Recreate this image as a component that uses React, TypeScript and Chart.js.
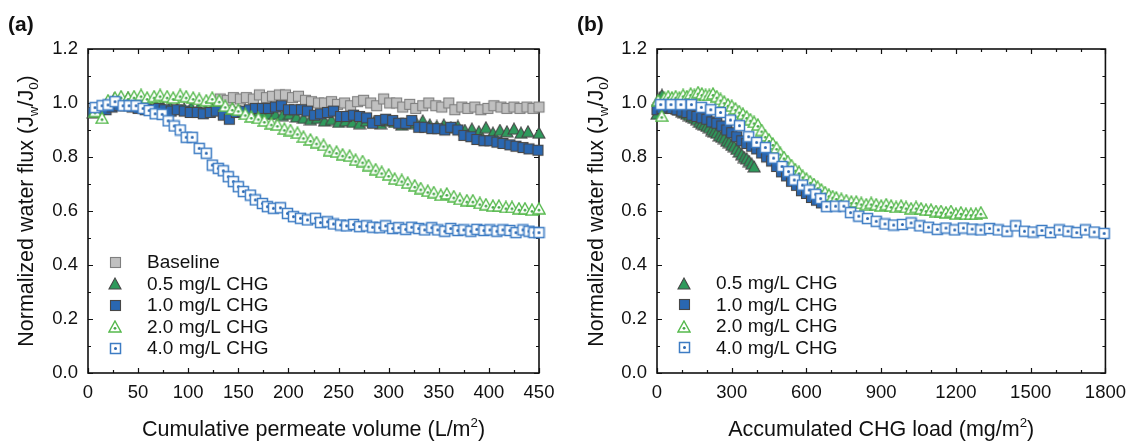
import React, { useEffect, useRef } from 'react';
import { Chart, registerables } from 'chart.js';
Chart.register(...registerables);

const FONT = '"Liberation Sans", Arial, Helvetica, sans-serif';

// ---------------- Panel (a): flux vs cumulative permeate volume ----------------
const aBaseX = [132, 139, 145, 152, 158, 165, 171, 178, 184, 191, 197, 204, 210, 217, 223, 230, 236, 243, 249, 256, 262, 269, 275, 282, 288, 295, 301, 308, 314, 321, 327, 334, 340, 347, 353, 360, 366, 373, 379, 386, 392, 399, 405, 412, 418, 425, 431, 438, 444, 450];
const aBaseY = [1.015, 1.01, 1.02, 1.015, 1.02, 1.015, 1.03, 1.02, 1.025, 1.03, 1.03, 1.02, 1.025, 1.01, 1.005, 1.0, 1.0, 1.005, 0.995, 1.0, 0.99, 1.005, 1.01, 1.0, 0.99, 1.015, 1.0, 1.0, 0.985, 0.995, 0.98, 0.99, 1.0, 0.99, 0.985, 1.0, 0.975, 0.985, 0.98, 0.985, 0.975, 0.98, 0.99, 0.985, 0.98, 0.985, 0.98, 0.985, 0.98, 0.985];

const a05X = [5, 12, 19, 26, 33, 40, 47, 54, 61, 68, 75, 82, 89, 96, 103, 110, 117, 124, 131, 138, 145, 152, 159, 166, 173, 180, 187, 194, 201, 208, 215, 222, 229, 236, 243, 250, 257, 264, 271, 278, 285, 292, 299, 306, 313, 320, 327, 334, 341, 348, 355, 362, 369, 376, 383, 390, 397, 404, 411, 418, 425, 432, 439, 450];
const a05Y = [0.965, 0.985, 1.0, 1.015, 1.02, 1.02, 1.01, 1.0, 0.99, 0.99, 0.985, 0.985, 0.98, 0.98, 0.985, 0.98, 0.975, 0.98, 0.975, 0.97, 0.975, 0.97, 0.965, 0.97, 0.965, 0.96, 0.96, 0.955, 0.96, 0.95, 0.945, 0.94, 0.945, 0.935, 0.94, 0.93, 0.935, 0.93, 0.925, 0.935, 0.93, 0.925, 0.935, 0.93, 0.92, 0.925, 0.93, 0.935, 0.92, 0.915, 0.92, 0.91, 0.915, 0.9, 0.905, 0.895, 0.91, 0.89, 0.9, 0.895, 0.905, 0.89, 0.895, 0.89];

const a10X = [5, 11, 18, 24, 31, 37, 44, 50, 57, 63, 70, 76, 83, 89, 96, 102, 109, 115, 122, 128, 135, 141, 148, 154, 161, 167, 174, 180, 187, 193, 200, 206, 213, 219, 226, 232, 239, 245, 252, 258, 265, 271, 278, 284, 291, 297, 304, 310, 317, 323, 330, 336, 343, 349, 356, 362, 369, 375, 382, 388, 395, 401, 408, 414, 421, 427, 434, 440, 449];
const a10Y = [0.965, 0.97, 0.975, 0.985, 0.99, 0.99, 0.985, 0.98, 0.975, 0.975, 0.98, 0.975, 0.97, 0.975, 0.97, 0.965, 0.965, 0.96, 0.965, 0.97, 0.955, 0.94, 0.965, 0.97, 0.975, 0.98, 0.98, 0.98, 0.985, 0.99, 0.975, 0.975, 0.975, 0.97, 0.955, 0.96, 0.965, 0.97, 0.95, 0.95, 0.955, 0.95, 0.945, 0.925, 0.935, 0.94, 0.935, 0.925, 0.925, 0.935, 0.91, 0.91, 0.905, 0.905, 0.9, 0.91, 0.9, 0.88, 0.875, 0.865, 0.86, 0.86, 0.855, 0.85, 0.845, 0.84, 0.835, 0.83, 0.825];

const a20X = [7, 14, 20, 27, 33, 40, 46, 53, 59, 66, 72, 79, 85, 92, 98, 105, 111, 118, 124, 131, 137, 144, 150, 157, 163, 170, 176, 183, 189, 196, 202, 209, 215, 222, 228, 235, 241, 248, 254, 261, 267, 274, 280, 287, 293, 300, 306, 313, 319, 326, 332, 339, 345, 352, 358, 365, 371, 378, 384, 391, 397, 404, 410, 417, 423, 430, 436, 443, 450];
const a20Y = [0.97, 0.945, 1.01, 1.02, 1.025, 1.02, 1.025, 1.03, 1.02, 1.025, 1.03, 1.025, 1.02, 1.03, 1.025, 1.02, 1.015, 1.01, 1.02, 1.01, 0.99, 0.98, 0.975, 0.96, 0.95, 0.945, 0.935, 0.925, 0.92, 0.905, 0.9, 0.89, 0.875, 0.865, 0.855, 0.845, 0.825, 0.82, 0.81, 0.805, 0.79, 0.785, 0.77, 0.755, 0.745, 0.735, 0.72, 0.715, 0.705, 0.695, 0.685, 0.675, 0.67, 0.66, 0.665, 0.655, 0.645, 0.64, 0.64, 0.63, 0.625, 0.62, 0.62, 0.615, 0.615, 0.61, 0.61, 0.605, 0.61];

const a40X = [7, 14, 20, 27, 35, 41, 48, 55, 61, 67, 74, 80, 86, 92, 98, 104, 111, 118, 124, 130, 135, 140, 145, 150, 155, 162, 167, 174, 179, 185, 192, 199, 205, 212, 219, 227, 232, 239, 245, 252, 258, 265, 271, 278, 284, 291, 297, 304, 310, 317, 323, 330, 336, 343, 349, 356, 362, 369, 375, 382, 388, 395, 401, 408, 414, 421, 427, 434, 440, 445, 450];
const a40Y = [0.983, 0.99, 0.993, 1.005, 0.99, 0.99, 0.99, 0.98, 0.972, 0.96, 0.958, 0.934, 0.915, 0.9, 0.873, 0.873, 0.832, 0.814, 0.77, 0.758, 0.749, 0.727, 0.709, 0.69, 0.672, 0.659, 0.641, 0.628, 0.616, 0.61, 0.612, 0.591, 0.579, 0.573, 0.567, 0.573, 0.557, 0.56, 0.552, 0.548, 0.545, 0.55, 0.542, 0.545, 0.54, 0.538, 0.545, 0.535, 0.538, 0.532, 0.54, 0.535, 0.53, 0.538, 0.53, 0.525, 0.535, 0.528, 0.53, 0.525, 0.532, 0.528, 0.53, 0.525, 0.53, 0.528, 0.52, 0.53, 0.525, 0.52, 0.52];

// ---------------- Panel (b): flux vs accumulated CHG load ----------------
const b05X = [0, 10, 20, 30, 40, 50, 60, 70, 80, 90, 100, 110, 120, 130, 140, 150, 160, 170, 180, 190, 200, 210, 220, 230, 240, 250, 260, 270, 280, 290, 300, 310, 320, 330, 340, 350, 360, 370, 380, 390];
const b05Y = [0.96, 1.02, 1.03, 1.01, 1.0, 0.995, 0.99, 0.985, 0.98, 0.975, 0.97, 0.965, 0.96, 0.955, 0.95, 0.945, 0.94, 0.93, 0.925, 0.92, 0.915, 0.91, 0.9, 0.895, 0.89, 0.88, 0.875, 0.87, 0.86, 0.855, 0.845, 0.84, 0.83, 0.82, 0.81, 0.8, 0.795, 0.785, 0.775, 0.765];

const b10X = [0, 20, 40, 60, 80, 100, 120, 140, 160, 180, 200, 220, 240, 260, 280, 300, 320, 340, 360, 380, 400, 420, 440, 460, 480, 500, 520, 540, 560, 580, 600, 620, 640, 660];
const b10Y = [0.975, 0.98, 0.985, 0.98, 0.975, 0.97, 0.965, 0.955, 0.95, 0.945, 0.94, 0.93, 0.925, 0.915, 0.9, 0.89, 0.875, 0.86, 0.85, 0.84, 0.83, 0.815, 0.8, 0.785, 0.765, 0.745, 0.73, 0.71, 0.695, 0.675, 0.665, 0.65, 0.64, 0.63];

const b20X = [5, 19, 30, 45, 60, 75, 90, 105, 120, 135, 150, 165, 180, 195, 210, 225, 240, 255, 270, 285, 300, 315, 330, 345, 360, 375, 390, 405, 420, 435, 450, 465, 480, 495, 510, 525, 540, 555, 570, 585, 600, 615, 630, 645, 660, 675, 690, 705, 720, 740, 760, 780, 800, 820, 840, 860, 880, 900, 920, 940, 960, 980, 1000, 1020, 1040, 1060, 1080, 1100, 1120, 1140, 1160, 1180, 1200, 1220, 1240, 1260, 1280, 1300];
const b20Y = [1.01, 0.953, 1.02, 1.025, 1.02, 1.025, 1.02, 1.03, 1.025, 1.035, 1.03, 1.04, 1.035, 1.03, 1.03, 1.035, 1.025, 1.015, 1.005, 0.995, 0.99, 0.98, 0.97, 0.96, 0.95, 0.94, 0.93, 0.92, 0.9, 0.88, 0.865, 0.85, 0.835, 0.815, 0.8, 0.785, 0.77, 0.755, 0.745, 0.73, 0.72, 0.71, 0.7, 0.69, 0.68, 0.67, 0.66, 0.655, 0.65, 0.645, 0.64, 0.635, 0.635, 0.63, 0.625, 0.63, 0.625, 0.62, 0.625, 0.62, 0.615, 0.62, 0.615, 0.61, 0.615, 0.61, 0.605, 0.605, 0.6, 0.6, 0.595, 0.6, 0.59, 0.595, 0.59, 0.59, 0.59, 0.595];

const b40X = [15, 56, 96, 138, 178, 216, 255, 295, 331, 368, 400, 435, 468, 502, 528, 551, 584, 611, 637, 657, 681, 717, 750, 777, 810, 845, 880, 915, 950, 985, 1020, 1055, 1090, 1125, 1160, 1195, 1230, 1265, 1300, 1335, 1370, 1405, 1440, 1475, 1510, 1545, 1580, 1615, 1650, 1685, 1720, 1755, 1795];
const b40Y = [0.994, 0.994, 0.994, 0.994, 0.984, 0.975, 0.965, 0.937, 0.916, 0.875, 0.854, 0.835, 0.796, 0.765, 0.746, 0.715, 0.696, 0.678, 0.662, 0.646, 0.616, 0.618, 0.618, 0.594, 0.581, 0.572, 0.562, 0.552, 0.548, 0.55, 0.556, 0.545, 0.54, 0.532, 0.537, 0.53, 0.537, 0.533, 0.53, 0.535, 0.53, 0.525, 0.545, 0.525, 0.522, 0.528, 0.52, 0.53, 0.525, 0.52, 0.53, 0.522, 0.517];

// ---------------- labels & ticks ----------------
const seriesLabels = ['Baseline', '0.5 mg/L CHG', '1.0 mg/L CHG', '2.0 mg/L CHG', '4.0 mg/L CHG'];
const xMajorA = [0, 50, 100, 150, 200, 250, 300, 350, 400, 450];
const xMinorA = [25, 75, 125, 175, 225, 275, 325, 375, 425];
const xMajorB = [0, 300, 600, 900, 1200, 1500, 1800];
const xMinorB = [100, 200, 400, 500, 700, 800, 1000, 1100, 1300, 1400, 1600, 1700];
const yMajor = [0, 0.2, 0.4, 0.6, 0.8, 1.0, 1.2];
const yMinor = [0.1, 0.3, 0.5, 0.7, 0.9, 1.1];

type Seg = { t: string; s?: 'sub' | 'sup' };
const yTitle: Seg[] = [{ t: 'Normalized water flux (J' }, { t: 'w', s: 'sub' }, { t: '/J' }, { t: '0', s: 'sub' }, { t: ')' }];
const xTitleA: Seg[] = [{ t: 'Cumulative permeate volume (L/m' }, { t: '2', s: 'sup' }, { t: ')' }];
const xTitleB: Seg[] = [{ t: 'Accumulated CHG load (mg/m' }, { t: '2', s: 'sup' }, { t: ')' }];

function richWidth(ctx: CanvasRenderingContext2D, segs: Seg[], size: number) {
  let w = 0;
  for (const g of segs) {
    ctx.font = `${g.s ? size * 0.62 : size}px ${FONT}`;
    w += ctx.measureText(g.t).width;
  }
  return w;
}
function drawRich(ctx: CanvasRenderingContext2D, segs: Seg[], x: number, y: number, size: number) {
  let cx = x;
  for (const g of segs) {
    const fs = g.s ? size * 0.62 : size;
    ctx.font = `${fs}px ${FONT}`;
    const dy = g.s === 'sub' ? size * 0.24 : g.s === 'sup' ? -size * 0.42 : 0;
    ctx.fillText(g.t, cx, y + dy);
    cx += ctx.measureText(g.t).width;
  }
}

function marker(kind: string): HTMLCanvasElement {
  const cv = document.createElement('canvas');
  const tri = kind === 'tri' || kind === 'triO';
  cv.width = tri ? 14 : 13;
  cv.height = 13;
  const c = cv.getContext('2d')!;
  if (tri) {
    c.beginPath();
    c.moveTo(7, 1);
    c.lineTo(13, 12);
    c.lineTo(1, 12);
    c.closePath();
    if (kind === 'tri') {
      c.fillStyle = '#2f9a5c';
      c.fill();
      c.strokeStyle = '#474747';
      c.lineWidth = 1.1;
      c.stroke();
    } else {
      c.fillStyle = '#ffffff';
      c.fill();
      c.strokeStyle = '#55b94c';
      c.lineWidth = 1.4;
      c.stroke();
      c.beginPath();
      c.arc(7, 8.3, 1.4, 0, Math.PI * 2);
      c.fillStyle = '#45a847';
      c.fill();
    }
  } else {
    const fill = kind === 'base' ? '#c0c0c0' : kind === 'sq' ? '#2a67b1' : '#ffffff';
    const stroke = kind === 'base' ? '#7f7f7f' : kind === 'sq' ? '#474747' : '#3d7cc4';
    c.fillStyle = fill;
    c.fillRect(1.5, 1.5, 10, 10);
    c.strokeStyle = stroke;
    c.lineWidth = kind === 'sqO' ? 1.5 : 1.1;
    c.strokeRect(1.5, 1.5, 10, 10);
    if (kind === 'sqO') {
      c.beginPath();
      c.arc(6.5, 6.5, 1.5, 0, Math.PI * 2);
      c.fillStyle = '#2a67b1';
      c.fill();
    }
  }
  return cv;
}

interface Series { label: string; x: number[]; y: number[]; marker: HTMLCanvasElement; order: number }
interface PanelCfg {
  tag: string;
  series: Series[];
  xMin: number; xMax: number;
  xMajor: number[]; xMinor: number[];
  yAxisWidth: number; padRight: number;
  xTitle: Seg[]; yTitleX: number;
  legendTop: number;
  panelLabel: string; panelLabelX: number;
}

function buildChart(canvas: HTMLCanvasElement, cfg: PanelCfg) {
  const decor = {
    id: 'decor' + cfg.tag,
    beforeDatasetsDraw(chart: any) {
      const { ctx, chartArea: a } = chart;
      const xs = chart.scales.x, ys = chart.scales.y;
      ctx.save();
      ctx.strokeStyle = '#111';
      ctx.lineWidth = 1.2;
      ctx.beginPath();
      for (const v of [...cfg.xMajor, ...cfg.xMinor]) {
        const L = cfg.xMajor.includes(v) ? 5 : 3;
        const px = Math.round(xs.getPixelForValue(v)) + 0.5;
        ctx.moveTo(px, a.bottom); ctx.lineTo(px, a.bottom - L);
        ctx.moveTo(px, a.top); ctx.lineTo(px, a.top + L);
      }
      for (const v of [...yMajor, ...yMinor]) {
        const L = yMajor.includes(v) ? 5 : 3;
        const py = Math.round(ys.getPixelForValue(v)) + 0.5;
        ctx.moveTo(a.left, py); ctx.lineTo(a.left + L, py);
        ctx.moveTo(a.right, py); ctx.lineTo(a.right - L, py);
      }
      ctx.stroke();
      ctx.lineWidth = 1.6;
      ctx.strokeRect(a.left, a.top, a.right - a.left, a.bottom - a.top);
      ctx.restore();
    },
    afterDraw(chart: any) {
      const { ctx, chartArea: a } = chart;
      ctx.save();
      ctx.fillStyle = '#111';
      ctx.textBaseline = 'alphabetic';
      ctx.textAlign = 'left';
      const ts = 21.5;
      const wx = richWidth(ctx, cfg.xTitle, ts);
      drawRich(ctx, cfg.xTitle, (a.left + a.right) / 2 - wx / 2, 436, ts);
      const wy = richWidth(ctx, yTitle, ts);
      ctx.save();
      ctx.translate(cfg.yTitleX, (a.top + a.bottom) / 2);
      ctx.rotate(-Math.PI / 2);
      drawRich(ctx, yTitle, -wy / 2, 0, ts);
      ctx.restore();
      ctx.font = `bold 21px ${FONT}`;
      ctx.fillText(cfg.panelLabel, cfg.panelLabelX, 31);
      ctx.font = `19px ${FONT}`;
      ctx.textBaseline = 'middle';
      chart.data.datasets.forEach((ds: any, i: number) => {
        const cy = a.top + cfg.legendTop + i * 21.5;
        const img = ds.pointStyle as HTMLCanvasElement;
        ctx.drawImage(img, Math.round(a.left + 27 - img.width / 2), Math.round(cy - img.height / 2));
        ctx.fillText(ds.label, a.left + 59, cy + 1);
      });
      ctx.restore();
    },
  };

  return new Chart(canvas, {
    type: 'scatter',
    data: {
      datasets: cfg.series.map((s) => ({
        label: s.label,
        data: s.x.map((xv, j) => ({ x: xv, y: s.y[j] })),
        pointStyle: s.marker as any,
        pointRadius: 5,
        pointHoverRadius: 5,
        showLine: false,
        clip: false as any,
        order: s.order,
      })),
    },
    options: {
      responsive: false,
      animation: false,
      events: [],
      layout: { padding: { left: 0, right: cfg.padRight, top: 49, bottom: 0 } },
      plugins: { legend: { display: false }, tooltip: { enabled: false }, title: { display: false } },
      scales: {
        x: {
          type: 'linear',
          min: cfg.xMin,
          max: cfg.xMax,
          grid: { display: false, drawTicks: false },
          border: { display: false },
          afterBuildTicks: (s: any) => {
            s.ticks = [...cfg.xMajor, ...cfg.xMinor].sort((p, q) => p - q).map((v) => ({ value: v }));
          },
          afterFit: (s: any) => { s.height = 68; },
          ticks: {
            autoSkip: false,
            maxRotation: 0,
            padding: 9,
            color: '#111',
            font: { family: FONT, size: 18.5 },
            callback: (v: any) => (cfg.xMajor.includes(Number(v)) ? String(v) : ''),
          },
        },
        y: {
          type: 'linear',
          min: 0,
          max: 1.2,
          grid: { display: false, drawTicks: false },
          border: { display: false },
          afterBuildTicks: (s: any) => {
            s.ticks = [...yMajor, ...yMinor].sort((p, q) => p - q).map((v) => ({ value: v }));
          },
          afterFit: (s: any) => { s.width = cfg.yAxisWidth; },
          ticks: {
            autoSkip: false,
            padding: 10,
            color: '#111',
            font: { family: FONT, size: 18.5 },
            callback: (v: any) => (yMajor.includes(Number(v)) ? Number(v).toFixed(1) : ''),
          },
        },
      },
    },
    plugins: [decor],
  } as any);
}

export default function App() {
  const refA = useRef<HTMLCanvasElement>(null);
  const refB = useRef<HTMLCanvasElement>(null);

  useEffect(() => {
    const mBase = marker('base');
    const mTri = marker('tri');
    const mSq = marker('sq');
    const mTriO = marker('triO');
    const mSqO = marker('sqO');

    const ca = buildChart(refA.current!, {
      tag: 'a',
      series: [
        { label: seriesLabels[0], x: aBaseX, y: aBaseY, marker: mBase, order: 5 },
        { label: seriesLabels[1], x: a05X, y: a05Y, marker: mTri, order: 4 },
        { label: seriesLabels[2], x: a10X, y: a10Y, marker: mSq, order: 3 },
        { label: seriesLabels[3], x: a20X, y: a20Y, marker: mTriO, order: 2 },
        { label: seriesLabels[4], x: a40X, y: a40Y, marker: mSqO, order: 1 },
      ],
      xMin: 0, xMax: 450, xMajor: xMajorA, xMinor: xMinorA,
      yAxisWidth: 88, padRight: 28,
      xTitle: xTitleA, yTitleX: 33,
      legendTop: 213,
      panelLabel: '(a)', panelLabelX: 8,
    });

    const cb = buildChart(refB.current!, {
      tag: 'b',
      series: [
        { label: seriesLabels[1], x: b05X, y: b05Y, marker: mTri, order: 4 },
        { label: seriesLabels[2], x: b10X, y: b10Y, marker: mSq, order: 3 },
        { label: seriesLabels[3], x: b20X, y: b20Y, marker: mTriO, order: 2 },
        { label: seriesLabels[4], x: b40X, y: b40Y, marker: mSqO, order: 1 },
      ],
      xMin: 0, xMax: 1800, xMajor: xMajorB, xMinor: xMinorB,
      yAxisWidth: 90, padRight: 27,
      xTitle: xTitleB, yTitleX: 36,
      legendTop: 234,
      panelLabel: '(b)', panelLabelX: 10,
    });

    return () => {
      ca.destroy();
      cb.destroy();
    };
  }, []);

  return (
    <div style={{ position: 'fixed', left: 0, top: 0, width: 1135, height: 441, background: '#ffffff' }}>
      <canvas ref={refA} width={567} height={441} style={{ position: 'absolute', left: 0, top: 0 }} />
      <canvas ref={refB} width={568} height={441} style={{ position: 'absolute', left: 567, top: 0 }} />
    </div>
  );
}
